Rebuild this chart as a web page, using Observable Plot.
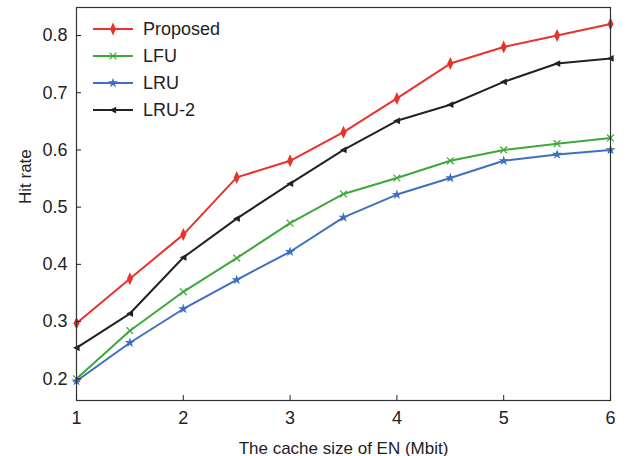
<!DOCTYPE html>
<html>
<head>
<meta charset="utf-8">
<script src="https://cdn.jsdelivr.net/npm/d3@7"></script>
<script src="https://cdn.jsdelivr.net/npm/@observablehq/plot@0.6"></script>
<style>
  html, body { margin: 0; padding: 0; background: #fff; }
  #wrap { position: relative; width: 633px; height: 456px; font-family: "Liberation Sans", Arial, sans-serif; }
  #legend { position: absolute; left: 0; top: 0; }
  .row { position: absolute; height: 20px; display: flex; align-items: center; font-size: 18px; color: #222; white-space: nowrap; }
  .row svg { margin-right: 10px; }
</style>
</head>
<body>
<div id="wrap"><div id="legend"></div></div>
<script>
const xs = [1, 1.5, 2, 2.5, 3, 3.5, 4, 4.5, 5, 5.5, 6];
const proposed = [0.297, 0.375, 0.452, 0.552, 0.581, 0.631, 0.690, 0.751, 0.780, 0.800, 0.820];
const lfu      = [0.200, 0.284, 0.352, 0.411, 0.472, 0.523, 0.551, 0.581, 0.600, 0.611, 0.621];
const lru      = [0.196, 0.263, 0.322, 0.373, 0.422, 0.482, 0.522, 0.551, 0.581, 0.592, 0.600];
const lru2     = [0.254, 0.314, 0.412, 0.480, 0.541, 0.600, 0.651, 0.679, 0.719, 0.751, 0.760];
const seriesNames = ["Proposed", "LFU", "LRU", "LRU-2"];
const xTicks = [1, 2, 3, 4, 5, 6];
const yTicks = [0.2, 0.3, 0.4, 0.5, 0.6, 0.7, 0.8];

const colors = {"Proposed": "#e8322b", "LFU": "#3ba83a", "LRU": "#3e6fc0", "LRU-2": "#222222"};

const tallDiamond = {draw(ctx, size) { const w = 3, h = 6.5; ctx.moveTo(0, -h); ctx.lineTo(w, 0); ctx.lineTo(0, h); ctx.lineTo(-w, 0); ctx.closePath(); }};
const leftTri = {draw(ctx, size) { const r = 4.5; ctx.moveTo(-r * 0.8, 0); ctx.lineTo(r * 0.7, -r * 0.75); ctx.lineTo(r * 0.7, r * 0.75); ctx.closePath(); }};
const symbols = {"Proposed": tallDiamond, "LFU": "times", "LRU": "star", "LRU-2": leftTri};

const valuesBy = {"Proposed": proposed, "LFU": lfu, "LRU": lru, "LRU-2": lru2};
const data = seriesNames.flatMap(s => xs.map((x, i) => ({series: s, x, y: valuesBy[s][i]})));

const marks = [];
for (const s of seriesNames) {
  const d = data.filter(r => r.series === s);
  marks.push(Plot.line(d, {x: "x", y: "y", stroke: colors[s], strokeWidth: 2}));
  if (s === "LFU") {
    marks.push(Plot.dot(d, {x: "x", y: "y", symbol: "times", r: 3.2, stroke: colors[s], strokeWidth: 1.2, fill: "none"}));
  } else if (s === "LRU") {
    marks.push(Plot.dot(d, {x: "x", y: "y", symbol: "star", r: 3.2, fill: colors[s], stroke: "none"}));
  } else {
    marks.push(Plot.dot(d, {x: "x", y: "y", symbol: symbols[s], r: 4.5, fill: colors[s], stroke: "none"}));
  }
}

const chart = Plot.plot({
  width: 633, height: 456,
  marginLeft: 76, marginRight: 23, marginTop: 7, marginBottom: 56,
  style: {fontFamily: "Liberation Sans, Arial, sans-serif", fontSize: "18px", color: "#222", background: "#fff"},
  x: {domain: [1, 6]},
  y: {domain: [0.162, 0.849]},
  marks: [
    ...marks,
    Plot.frame({stroke: "#333", strokeWidth: 1.2}),
    Plot.axisX(xTicks, {anchor: "bottom", tickSize: -5, tickPadding: 16, label: null, fontSize: 18}),
    Plot.axisY(yTicks, {anchor: "left", tickSize: -5, tickPadding: 14, label: null, fontSize: 18, tickFormat: d3.format(".1f")}),
    Plot.text(["The cache size of EN (Mbit)"], {frameAnchor: "bottom", dy: 53, fontSize: 17, fill: "#222"}),
    Plot.text(["Hit rate"], {frameAnchor: "left", dx: -51, rotate: -90, fontSize: 17, fill: "#222"})
  ]
});
document.getElementById("wrap").prepend(chart);

// Legend overlay
const legend = document.getElementById("legend");
const rowsY = [29, 56, 83, 110];
seriesNames.forEach((s, i) => {
  const row = document.createElement("div");
  row.className = "row";
  row.style.left = "93px";
  row.style.top = (rowsY[i] - 10) + "px";
  const svg = d3.create("svg").attr("width", 40).attr("height", 20);
  svg.append("line").attr("x1", 0).attr("x2", 40).attr("y1", 10).attr("y2", 10).attr("stroke", colors[s]).attr("stroke-width", 2);
  const g = svg.append("g").attr("transform", "translate(20,10)");
  const sym = symbols[s];
  const symObj = typeof sym === "string" ? (sym === "times" ? d3.symbolTimes : d3.symbolStar) : sym;
  const p = d3.symbol(symObj, s === "LFU" ? 32 : 32)();
  if (s === "LFU") g.append("path").attr("d", p).attr("stroke", colors[s]).attr("stroke-width", 1.2).attr("fill", "none");
  else g.append("path").attr("d", p).attr("fill", colors[s]);
  row.appendChild(svg.node());
  const t = document.createElement("span");
  t.textContent = s;
  row.appendChild(t);
  legend.appendChild(row);
});
</script>
</body>
</html>
